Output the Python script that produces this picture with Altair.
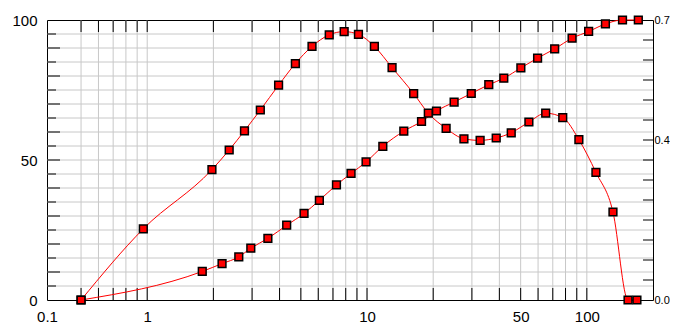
import altair as alt
import pandas as pd

# ---- data ----
freq_x = [0.5, 0.96, 1.97, 2.36, 2.77, 3.27, 3.96, 4.72, 5.62, 6.73, 7.87, 9.14,
          10.8, 13.0, 16.3, 19.0, 22.9, 27.6, 32.7, 38.7, 45.3, 54.5, 65.0, 77.7,
          92.0, 110.0, 131.5, 154.0, 169.0]
freq_y = [0.0, 0.178, 0.326, 0.375, 0.423, 0.475, 0.537, 0.591, 0.634, 0.663, 0.671, 0.664,
          0.634, 0.581, 0.516, 0.467, 0.429, 0.403, 0.399, 0.405, 0.418, 0.445, 0.467, 0.456,
          0.401, 0.319, 0.220, 0.0, 0.0]

cum_x = [0.5, 1.78, 2.19, 2.61, 2.96, 3.54, 4.31, 5.17, 6.07, 7.26, 8.46, 9.9,
         11.8, 14.7, 17.7, 20.7, 24.9, 29.8, 35.8, 41.9, 50.1, 59.7, 71.4, 85.7,
         101.9, 121.5, 145.3, 171.5]
cum_y = [0.0, 10.2, 13.0, 15.4, 18.5, 22.0, 26.7, 30.9, 35.6, 41.1, 45.2, 49.3,
         54.9, 60.3, 63.75, 67.5, 70.7, 73.75, 76.9, 79.2, 82.9, 86.4, 89.7, 93.5,
         95.9, 98.6, 100.0, 100.0]

x_grid = [0.5, 0.6, 0.7, 0.8, 0.9, 1, 2, 3, 4, 5, 6, 7, 8, 9,
          10, 20, 30, 40, 50, 60, 70, 80, 90, 100]
x_label_values = [0.35, 1, 10, 50, 100]
y_grid = [5, 10, 15, 20, 25, 30, 35, 40, 45, 50, 55, 60, 65, 70, 75, 80, 85, 90, 95]
left_major_ticks = [10, 20, 30, 40, 50, 60, 70, 80, 90]
left_minor_ticks = [5, 15, 25, 35, 45, 55, 65, 75, 85, 95]
right_ticks = [0.05, 0.1, 0.15, 0.2, 0.25, 0.3, 0.35, 0.4, 0.45, 0.5, 0.55, 0.6, 0.65]
left_label_values = [0, 50, 100]
right_label_values = [0.0, 0.4, 0.7]

X_DOMAIN = [0.35, 200]
W, H = 606, 280
FONT = "Liberation Sans"
FS = 15
GRID = "#c8c8c8"

xs = alt.Scale(type="log", domain=X_DOMAIN, nice=False)
yl = alt.Scale(domain=[0, 100], nice=False, zero=False)
yr = alt.Scale(domain=[0, 0.7], nice=False, zero=False)

cum = pd.DataFrame({"x": cum_x, "y": cum_y})
freq = pd.DataFrame({"x": freq_x, "y": freq_y})

x_axis = alt.Axis(values=x_label_values,
                  labelExpr="datum.value < 0.5 ? '0.1' : '' + datum.value",
                  grid=False, ticks=False, domain=False, labelFlush=False,
                  labelPadding=9, title=None)
left_axis = alt.Axis(values=left_label_values, format="d", grid=False, ticks=False,
                     domain=False, labelPadding=10, title=None)
right_axis = alt.Axis(values=right_label_values, format=".1f", orient="right",
                      grid=False, ticks=False, domain=False, labelPadding=1,
                      labelFont=FONT, labelFontSize=11, title=None)


def vdf(vals):
    return pd.DataFrame({"v": vals})


def X(field):
    return alt.X(field, scale=xs, axis=x_axis)


def YL(field):
    return alt.Y(field, scale=yl, axis=left_axis)


def YR(field):
    return alt.Y(field, scale=yr, axis=right_axis)


vgrid = alt.Chart(vdf(x_grid)).mark_rule(color=GRID, strokeWidth=1).encode(x=X("v:Q"))
hgrid = alt.Chart(vdf(y_grid)).mark_rule(color=GRID, strokeWidth=1).encode(y=YL("v:Q"))
xt_top = alt.Chart(vdf(x_grid)).mark_rule(color="black", strokeWidth=1).encode(
    x=X("v:Q"), y=alt.value(0), y2=alt.value(12))
xt_bot = alt.Chart(vdf(x_grid)).mark_rule(color="black", strokeWidth=1).encode(
    x=X("v:Q"), y=alt.value(H - 12), y2=alt.value(H))
lt_major = alt.Chart(vdf(left_major_ticks)).mark_rule(color="black", strokeWidth=1).encode(
    y=YL("v:Q"), x=alt.value(0), x2=alt.value(13))
lt_minor = alt.Chart(vdf(left_minor_ticks)).mark_rule(color="black", strokeWidth=1).encode(
    y=YL("v:Q"), x=alt.value(0), x2=alt.value(9))

cum_line = alt.Chart(cum).mark_line(color="#ff0000", strokeWidth=1, interpolate="monotone").encode(
    x=X("x:Q"), y=YL("y:Q"))
cum_pts = alt.Chart(cum).mark_square(size=60, color="#ff0000", stroke="black",
                                     strokeWidth=1.5, opacity=1).encode(
    x=X("x:Q"), y=YL("y:Q"))

rt = alt.Chart(vdf(right_ticks)).mark_rule(color="black", strokeWidth=1).encode(
    y=YR("v:Q"), x=alt.value(W - 10), x2=alt.value(W))
freq_line = alt.Chart(freq).mark_line(color="#ff0000", strokeWidth=1, interpolate="monotone").encode(
    x=X("x:Q"), y=YR("y:Q"))
freq_pts = alt.Chart(freq).mark_square(size=60, color="#ff0000", stroke="black",
                                       strokeWidth=1.5, opacity=1).encode(
    x=X("x:Q"), y=YR("y:Q"))

left = alt.layer(vgrid, hgrid, xt_top, xt_bot, lt_major, lt_minor, cum_line, cum_pts)
right = alt.layer(rt, freq_line, freq_pts)

chart = alt.layer(left, right).resolve_scale(y="independent").properties(
    width=W, height=H,
    autosize=alt.AutoSizeParams(type="none"),
    padding={"left": 39, "top": 12, "right": 17, "bottom": 24},
).configure_view(stroke="black", strokeWidth=1).configure_axis(
    labelFont=FONT, labelFontSize=FS, labelColor="black")

chart.save("out.html", embed_options={"renderer": "svg", "actions": False})
